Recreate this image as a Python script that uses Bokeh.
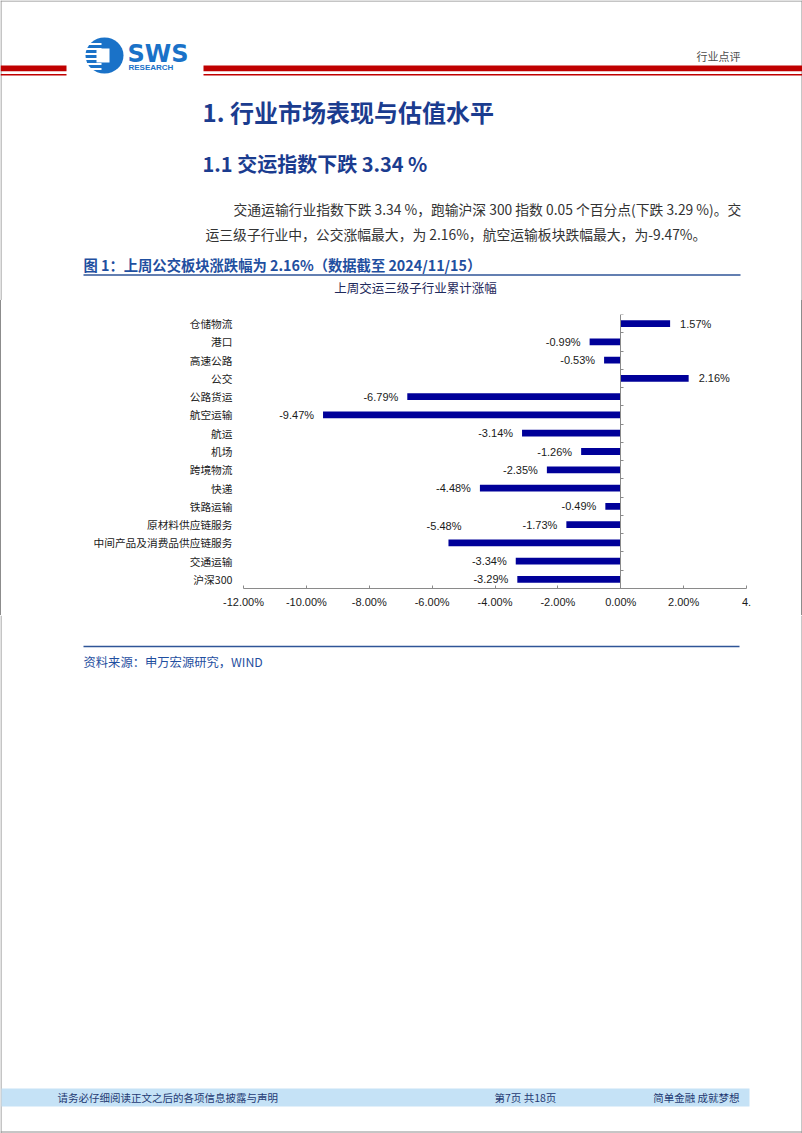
from bokeh.plotting import figure
from bokeh.models import (Range1d, ColumnDataSource, LabelSet, LinearAxis,
                          FixedTicker, PrintfTickFormatter, Spacer)
from bokeh.layouts import column, row
from bokeh.embed import file_html
from bokeh.resources import INLINE
from bokeh.core.properties import value

# ---------------- data ----------------
categories = ["仓储物流", "港口", "高速公路", "公交", "公路货运", "航空运输", "航运", "机场",
              "跨境物流", "快递", "铁路运输", "原材料供应链服务", "中间产品及消费品供应链服务",
              "交通运输", "沪深300"]
values = [1.57, -0.99, -0.53, 2.16, -6.79, -9.47, -3.14, -1.26,
          -2.35, -4.48, -0.49, -1.73, -5.48, -3.34, -3.29]
x_ticks = [-12, -10, -8, -6, -4, -2, 0, 2, 4]
last_tick_text = "4."          # the source picture is cropped through this tick label
moved_label = "中间产品及消费品供应链服务"   # its data label sits above-left in the source

chart_title = "上周交运三级子行业累计涨幅"
page_title = "1. 行业市场表现与估值水平"
sub_title = "1.1 交运指数下跌 3.34 %"
para_1 = "交通运输行业指数下跌 3.34 %，跑输沪深 300 指数 0.05 个百分点(下跌 3.29 %)。交"
para_2 = "运三级子行业中，公交涨幅最大，为 2.16%，航空运输板块跌幅最大，为-9.47%。"
fig_caption = "图 1：上周公交板块涨跌幅为 2.16%（数据截至 2024/11/15）"
source_note = "资料来源：申万宏源研究，WIND"
footer_left = "请务必仔细阅读正文之后的各项信息披露与声明"
footer_mid = "第7页 共18页"
footer_right = "简单金融 成就梦想"
header_right = "行业点评"

# ---------------- styles ----------------
W = 802
CJK = "Noto Sans CJK SC"
LAT = "Liberation Sans"
BORDER = "#8c8c8c"
RED = "#c00000"
NAVY_BAR = "#000099"
HEAD_BLUE = "#1b3c8f"
CAP_BLUE = "#1f4fa0"
LOGO_BLUE = "#1a72c8"


def page_fig(y0, y1, width=W):
    f = figure(width=width, height=y1 - y0, x_range=Range1d(0, width), y_range=Range1d(y1, y0),
               output_backend="svg", toolbar_location=None, min_border=0,
               x_axis_location=None, y_axis_location=None, title=None)
    f.grid.visible = False
    f.outline_line_color = None
    f.background_fill_color = "white"
    f.border_fill_color = "white"
    return f


def txt(f, x, y, s, size, color, bold=False, align="left", font=CJK):
    f.text(x=[x], y=[y], text=[s], text_font=value(font), text_font_size=f"{size}px",
           text_color=color, text_font_style="bold" if bold else "normal",
           text_align=align, text_baseline="middle")


# ---------------- top band (page header, headings, caption) ----------------
top = page_fig(0, 300)
top.segment(x0=[0, 0.5, 801.5], y0=[0.5, 0, 0], x1=[W, 0.5, 801.5], y1=[0.5, 300, 300],
            line_color=BORDER, line_width=1)
top.quad(left=[0, 203], right=[66, W], top=[65, 65], bottom=[70.7, 70.7],
         fill_color=RED, line_color=None)
top.quad(left=[0, 203], right=[66, W], top=[73.6, 73.6], bottom=[75, 75],
         fill_color=RED, line_color=None)
# logo
top.ellipse(x=[104], y=[55], width=[38], height=[36], fill_color=LOGO_BLUE, line_color=None)
top.quad(left=[84] * 6, right=[101] * 6, top=[42.5, 47.5, 52.5, 57.5, 62.5, 67.5],
         bottom=[44.5, 49.5, 54.5, 59.5, 64.5, 69.5], fill_color="white", line_color=None)
top.quad(left=[96], right=[109], top=[48], bottom=[62], fill_color="white", line_color=None)
txt(top, 127, 53, "SWS", 24, LOGO_BLUE, bold=True, font="DejaVu Sans")
txt(top, 128, 67, "RESEARCH", 8, LOGO_BLUE, bold=True, font="Liberation Sans")
txt(top, 740, 55, header_right, 11, "#4d4d4d", align="right")
# headings and text
txt(top, 202, 111, page_title, 24, HEAD_BLUE, bold=True)
txt(top, 202, 163, sub_title, 20, HEAD_BLUE, bold=True)
txt(top, 233, 208, para_1, 13.8, "#333333")
txt(top, 205, 233, para_2, 13.8, "#333333")
txt(top, 83, 264, fig_caption, 14.3, CAP_BLUE, bold=True)
top.segment(x0=[83], y0=[274.5], x1=[740], y1=[274.5], line_color="#2f5597", line_width=1.5)
txt(top, 415, 287, chart_title, 12.5, "#1f2a5c", align="center")

# ---------------- chart ----------------
n = len(categories)
slot = [n - 0.5 - i for i in range(n)]          # first category at the top
src = ColumnDataSource(dict(y=slot, val=values))
CHART_W = 751
chart = figure(width=CHART_W, height=315, y_range=Range1d(0, n),
               x_range=Range1d(x_ticks[0], x_ticks[-1]), output_backend="svg",
               toolbar_location=None, min_border_left=242, min_border_right=6,
               min_border_top=14, min_border_bottom=27, title=None)
chart.grid.visible = False
chart.outline_line_color = None
chart.hbar(y="y", left=0, right="val", height=0.37, source=src,
           fill_color=NAVY_BAR, line_color=None)

xa = chart.xaxis[0]
xa.ticker = FixedTicker(ticks=x_ticks)
xa.formatter = PrintfTickFormatter(format="%.2f%%")
xa.major_label_overrides = {x_ticks[-1]: last_tick_text}
xa.axis_line_color = "#8a8a8a"
xa.major_tick_line_color = "#8a8a8a"
xa.major_tick_in = 3
xa.major_tick_out = 0
xa.minor_tick_line_color = None
xa.major_label_standoff = 7
xa.major_label_text_font = LAT
xa.major_label_text_font_size = "11px"
xa.major_label_text_color = "#1a1a1a"

ya = chart.yaxis[0]
ya.ticker = FixedTicker(ticks=slot)
ya.major_label_overrides = {s: c for s, c in zip(slot, categories)}
ya.axis_line_color = None
ya.major_tick_line_color = None
ya.minor_tick_line_color = None
ya.major_label_standoff = 5
ya.major_label_text_font = CJK
ya.major_label_text_font_size = "10.7px"
ya.major_label_text_color = "#1a1a1a"

# zero line with ticks at the category boundaries
zero_ax = LinearAxis(ticker=FixedTicker(ticks=list(range(n + 1))),
                     fixed_location=0, axis_line_color="#8a8a8a",
                     major_tick_line_color="#8a8a8a", major_tick_in=3, major_tick_out=0,
                     minor_tick_line_color=None, major_label_text_font_size="1px",
                     major_label_text_alpha=0, major_label_standoff=0,
                     major_label_overrides={i: "" for i in range(n + 1)})
chart.add_layout(zero_ax, "left")

labels = [f"{v:.2f}%" for v in values]
pos = [i for i, v in enumerate(values) if v >= 0]
neg = [i for i, v in enumerate(values) if v < 0 and categories[i] != moved_label]
mov = [i for i, c in enumerate(categories) if c == moved_label]


def sub(idx):
    return ColumnDataSource(dict(y=[slot[i] for i in idx], val=[values[i] for i in idx],
                                 lab=[labels[i] for i in idx]))


common = dict(x="val", y="y", text="lab", text_baseline="middle", text_font=value(LAT),
              text_font_size="11px", text_color="#1a1a1a")
chart.add_layout(LabelSet(source=sub(pos), x_offset=10, text_align="left", **common))
chart.add_layout(LabelSet(source=sub(neg), x_offset=-9, text_align="right", **common))
chart.add_layout(LabelSet(source=sub(mov), x_offset=13, y_offset=17, text_align="right", **common))

band_b = row(Spacer(width=1, height=315, styles={"background-color": BORDER}),
             chart,
             Spacer(width=W - 2 - CHART_W, height=315),
             Spacer(width=1, height=315, styles={"background-color": BORDER}))

# ---------------- bottom band ----------------
bot = page_fig(615, 1133)
bot.segment(x0=[0.5, 801.5, 0], y0=[615, 615, 1131.5], x1=[0.5, 801.5, W], y1=[1133, 1133, 1131.5],
            line_color=BORDER, line_width=1)
bot.segment(x0=[83], y0=[646], x1=[739], y1=[646], line_color="#2f5597", line_width=1.5)
txt(bot, 83, 661, source_note, 12.3, CAP_BLUE)
bot.quad(left=[1], right=[749], top=[1088], bottom=[1106], fill_color="#c5e2f6", line_color=None)
txt(bot, 57, 1097, footer_left, 10.5, "#1f3a73")
txt(bot, 494, 1097, footer_mid, 10.5, "#1f3a73")
txt(bot, 739, 1097, footer_right, 10.5, "#1f3a73", align="right")

page = column(top, band_b, bot)
open("out.html", "w").write(file_html(page, INLINE))
